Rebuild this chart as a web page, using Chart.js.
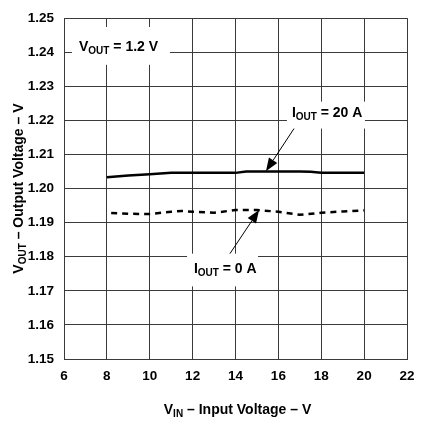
<!DOCTYPE html>
<html>
<head>
<meta charset="utf-8">
<script src="https://cdn.jsdelivr.net/npm/chart.js@4.4.0/dist/chart.umd.min.js"></script>
<style>
  html, body { margin: 0; padding: 0; background: #fff; }
  #wrap { width: 435px; height: 425px; }
</style>
</head>
<body>
<div id="wrap"><canvas id="c" width="435" height="425"></canvas></div>
<script>
// ── Данные ───────────────────────────────────────────────────
const vin20 = [8, 9, 10, 11, 12, 13, 14, 14.5, 15, 16, 17, 17.5, 18, 19, 20];
const vout20 = [1.2033, 1.2038, 1.2042, 1.2046, 1.2046, 1.2046, 1.2046, 1.2050, 1.2050, 1.2050, 1.2050, 1.2049, 1.2046, 1.2046, 1.2046];

const vin0 = [8.2, 9, 10, 11, 11.5, 12, 13, 14, 15, 16, 17, 18, 19, 20];
const vout0 = [1.1928, 1.1926, 1.1925, 1.1932, 1.1934, 1.1932, 1.1929, 1.1937, 1.1937, 1.1932, 1.1923, 1.1929, 1.1933, 1.1936];

const xTicks = [6, 8, 10, 12, 14, 16, 18, 20, 22];
const yTicks = [1.15, 1.16, 1.17, 1.18, 1.19, 1.20, 1.21, 1.22, 1.23, 1.24, 1.25];

const FONT = "'Liberation Sans', Arial, sans-serif";
const GRID = '#3a3a3a';

// текст с подстрочными индексами: [[текст, isSub], ...]
function richWidth(ctx, segs, size, subSize) {
  let w = 0;
  for (const [t, sub] of segs) {
    ctx.font = `bold ${sub ? subSize : size}px ${FONT}`;
    w += ctx.measureText(t).width;
  }
  return w;
}
function drawRich(ctx, segs, x, y, size, subSize, align) {
  const w = richWidth(ctx, segs, size, subSize);
  let cx = align === 'center' ? x - w / 2 : x;
  ctx.textBaseline = 'alphabetic';
  ctx.textAlign = 'left';
  ctx.fillStyle = '#000';
  for (const [t, sub] of segs) {
    ctx.font = `bold ${sub ? subSize : size}px ${FONT}`;
    ctx.fillText(t, cx, sub ? y + 3 : y);
    cx += ctx.measureText(t).width;
  }
}
function arrow(ctx, x1, y1, x2, y2) {
  const a = Math.atan2(y2 - y1, x2 - x1);
  const L = 13, W = 5;
  ctx.strokeStyle = '#000';
  ctx.lineWidth = 1;
  ctx.beginPath();
  ctx.moveTo(x1, y1);
  ctx.lineTo(x2 - L * Math.cos(a), y2 - L * Math.sin(a));
  ctx.stroke();
  ctx.fillStyle = '#000';
  ctx.beginPath();
  ctx.moveTo(x2, y2);
  ctx.lineTo(x2 - L * Math.cos(a) + W * Math.sin(a), y2 - L * Math.sin(a) - W * Math.cos(a));
  ctx.lineTo(x2 - L * Math.cos(a) - W * Math.sin(a), y2 - L * Math.sin(a) + W * Math.cos(a));
  ctx.closePath();
  ctx.fill();
}

// ── Подписи осей и аннотации ─────────────────────────────────
const annotationsPlugin = {
  id: 'annotations',
  afterDatasetsDraw(chart) {
    const { ctx, scales: { x, y } } = chart;
    const px = v => x.getPixelForValue(v);
    const py = v => y.getPixelForValue(v);
    ctx.save();

    // белые подложки под надписями
    ctx.fillStyle = '#fff';
    const boxes = [
      [6.37, 10.94, 1.2474, 1.2363],
      [16.40, 20.04, 1.2255, 1.2176],
      [11.74, 15.05, 1.1809, 1.1713],
    ];
    for (const [x1, x2, y1, y2] of boxes) {
      ctx.fillRect(px(x1), py(y1), px(x2) - px(x1), py(y2) - py(y1));
    }

    drawRich(ctx, [['V', false], ['OUT', true], [' = 1.2 V', false]], px(6.70), py(1.2404), 14, 10, 'left');
    drawRich(ctx, [['I', false], ['OUT', true], [' = 20 A', false]], px(16.63), py(1.2211), 14, 10, 'left');
    drawRich(ctx, [['I', false], ['OUT', true], [' = 0 A', false]], px(12.06), py(1.1751), 14, 10, 'left');

    arrow(ctx, px(16.73), py(1.2176), px(15.42), py(1.2051));
    arrow(ctx, px(13.74), py(1.1809), px(15.10), py(1.1937));

    // подписи осей
    const { left, right, top, bottom } = chart.chartArea;
    drawRich(ctx, [['V', false], ['IN', true], [' – Input Voltage – V', false]], (left + right) / 2 + 2, 414, 14, 10, 'center');
    ctx.translate(23, (top + bottom) / 2);
    ctx.rotate(-Math.PI / 2);
    drawRich(ctx, [['V', false], ['OUT', true], [' – Output Voltage – V', false]], 0, 0, 14, 10, 'center');
    ctx.restore();
  },
};

new Chart(document.getElementById('c'), {
  type: 'scatter',
  data: {
    datasets: [
      {
        label: 'IOUT = 20 A',
        data: vin20.map((v, i) => ({ x: v, y: vout20[i] })),
        showLine: true,
        borderColor: '#000',
        borderWidth: 2.5,
        pointRadius: 0,
        tension: 0,
      },
      {
        label: 'IOUT = 0 A',
        data: vin0.map((v, i) => ({ x: v, y: vout0[i] })),
        showLine: true,
        borderColor: '#000',
        borderWidth: 2.5,
        borderDash: [6, 5],
        pointRadius: 0,
        tension: 0,
      },
    ],
  },
  options: {
    responsive: false,
    animation: false,
    layout: { padding: { top: 16, right: 28, left: 0, bottom: 0 } },
    plugins: { legend: { display: false }, tooltip: { enabled: false } },
    scales: {
      x: {
        type: 'linear',
        min: 6, max: 22,
        afterBuildTicks: s => { s.ticks = xTicks.map(v => ({ value: v })); },
        afterFit: s => { s.height = 66; },
        grid: { color: GRID, lineWidth: 1, drawTicks: false },
        border: { color: GRID, width: 1 },
        ticks: { color: '#000', padding: 9, font: { family: FONT, size: 13.5, weight: 'bold' }, maxRotation: 0 },
      },
      y: {
        type: 'linear',
        min: 1.15, max: 1.25,
        afterBuildTicks: s => { s.ticks = yTicks.map(v => ({ value: v })); },
        afterFit: s => { s.width = 64; },
        grid: { color: GRID, lineWidth: 1, drawTicks: false },
        border: { color: GRID, width: 1 },
        ticks: {
          color: '#000', padding: 10,
          font: { family: FONT, size: 13.5, weight: 'bold' },
          callback: v => v.toFixed(2),
        },
      },
    },
  },
  plugins: [annotationsPlugin],
});
</script>
</body>
</html>
